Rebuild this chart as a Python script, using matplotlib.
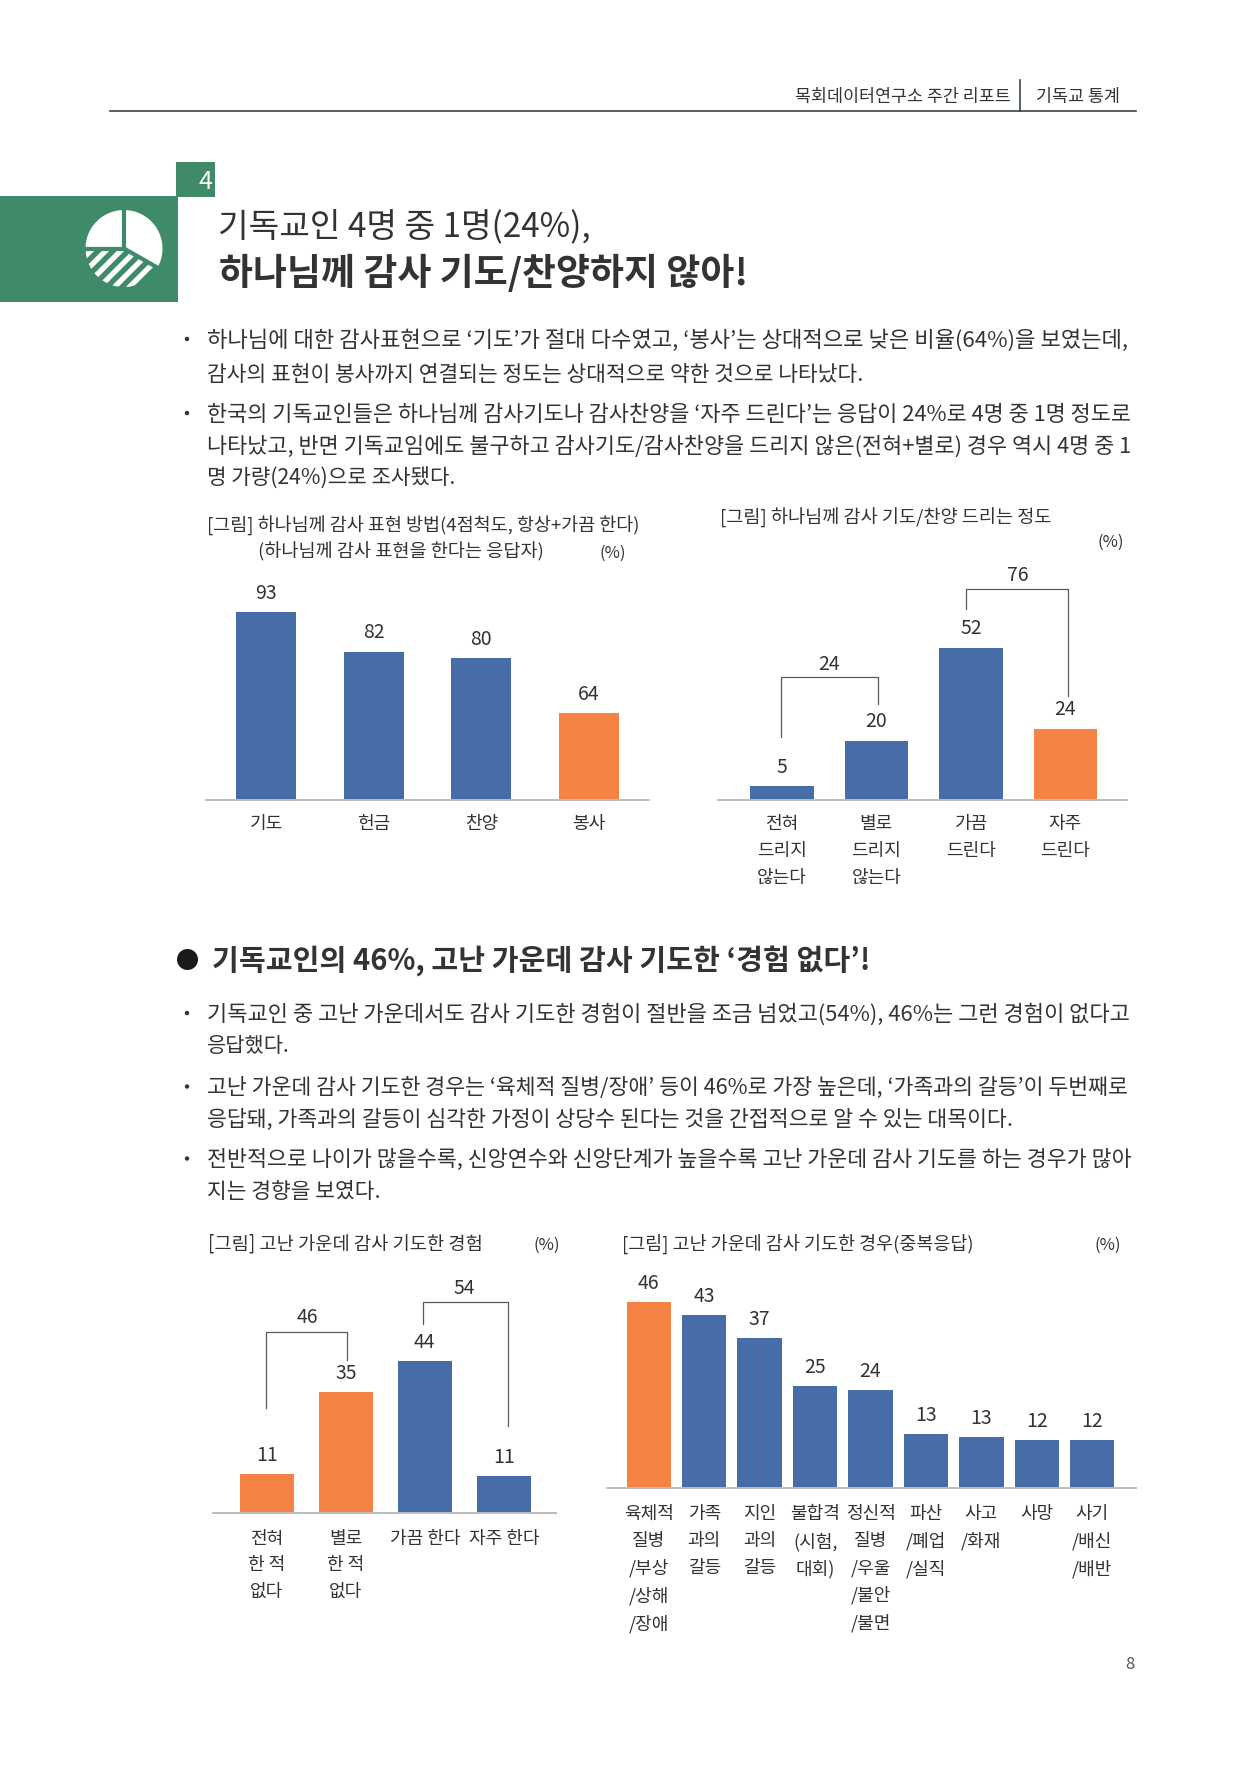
import matplotlib
matplotlib.use("Agg")
import matplotlib.pyplot as plt
from matplotlib.patches import Rectangle, Circle, Wedge

plt.rcParams['font.family'] = ['Noto Sans CJK KR', 'DejaVu Sans']

W, H = 1248, 1766
INK = "#333333"
BLUE = "#466da8"
ORANGE = "#f58345"
GREEN = "#3f8a69"
AXIS = "#bdbdbd"

# 차트 데이터
how_labels = ["기도", "헌금", "찬양", "봉사"]
how_values = [93, 81.8, 80, 64.4]
how_colors = [BLUE, BLUE, BLUE, ORANGE]

freq_labels = ["전혀\n드리지\n않는다", "별로\n드리지\n않는다", "가끔\n드린다", "자주\n드린다"]
freq_values = [4.8, 20.3, 52, 24.3]
freq_colors = [BLUE, BLUE, BLUE, ORANGE]

exp_labels = ["전혀\n한 적\n없다", "별로\n한 적\n없다", "가끔 한다", "자주 한다"]
exp_values = [11.3, 35, 44, 10.7]
exp_colors = [ORANGE, ORANGE, BLUE, BLUE]

case_labels = ["육체적\n질병\n/부상\n/상해\n/장애", "가족\n과의\n갈등", "지인\n과의\n갈등",
               "불합격\n(시험,\n대회)", "정신적\n질병\n/우울\n/불안\n/불면", "파산\n/폐업\n/실직",
               "사고\n/화재", "사망", "사기\n/배신\n/배반"]
case_values = [46, 42.8, 37.1, 25.2, 24.2, 13.4, 12.6, 11.9, 11.9]
case_colors = [ORANGE] + [BLUE] * 8

fig = plt.figure(figsize=(W / 100, H / 100), dpi=100, facecolor="white")
page = fig.add_axes([0, 0, 1, 1])
page.set_xlim(0, W)
page.set_ylim(H, 0)
page.axis("off")
renderer = fig.canvas.get_renderer()


def put_text(x0, x1, yc, s, size=15, weight="light", color=INK, ha="left"):
    t = page.text(x0, yc, s, fontsize=size, fontweight=weight, color=color, ha=ha, va="baseline")
    if x1 is not None:
        w = t.get_window_extent(renderer).width
        t.set_fontsize(size * (x1 - x0) / w)
    t.set_y(yc + 0.35 * t.get_fontsize() * 100 / 72)
    return t


def chart(x0, x1, y_top, y_base, labels, values, colors, ylim, xlim, width, fs=13, pad=11, ls=1.63):
    ax = fig.add_axes([x0 / W, 1 - y_base / H, (x1 - x0) / W, (y_base - y_top) / H])
    ax.patch.set_alpha(0)
    x = list(range(len(values)))
    bars = ax.bar(x, values, width=width, color=colors)
    ax.bar_label(bars, labels=[f"{v:.0f}" for v in values], padding=6, fontsize=14, color=INK)
    ax.set_xlim(*xlim)
    ax.set_ylim(*ylim)
    ax.set_xticks(x)
    ax.set_xticklabels(labels, fontsize=fs, color=INK, linespacing=ls)
    ax.tick_params(axis="x", length=0, pad=pad)
    ax.set_yticks([])
    for s in ["top", "left", "right"]:
        ax.spines[s].set_visible(False)
    ax.spines["bottom"].set_color(AXIS)
    ax.spines["bottom"].set_linewidth(1.4)
    return ax


def bracket(x_a, y_a, y_top, x_b, y_b, label, lab_x, lab_y):
    page.plot([x_a, x_a, x_b, x_b], [y_a, y_top, y_top, y_b], color="#5a5a5a", lw=0.9)
    put_text(lab_x, None, lab_y, label, size=14, ha="center")


# 머리글
put_text(795, 1011, 96, "목회데이터연구소 주간 리포트", size=12)
put_text(1035.5, 1120, 96, "기독교 통계", size=12)
page.plot([110, 1136], [111, 111], color="#3a444c", lw=1.2)
page.plot([1020, 1020], [80, 111], color="#3a444c", lw=1.2)
put_text(1129.5, None, 1663, "8", size=12, ha="center", color="#555555")

# 섹션 머리 아이콘
page.add_patch(Rectangle((0, 196), 178, 106, fc=GREEN, ec="none"))
page.add_patch(Rectangle((176, 162), 39, 35, fc=GREEN, ec="none"))
put_text(205.5, None, 180, "4", size=18, color="white", ha="center")

icon = fig.add_axes([(124 - 40) / W, 1 - (248.5 + 40) / H, 80 / W, 80 / H])
icon.set_xlim(-40, 40)
icon.set_ylim(-40, 40)
icon.axis("off")
icon.add_patch(Wedge((0, 0), 38.5, -30, 180, fc="white", ec="none"))
low = Wedge((0, 0), 38.5, 180, 330, fc=GREEN, ec="none")
icon.add_patch(low)
for c in [-44, -29, -14, 1, 16, 31]:
    stripe, = icon.plot([-40, 40], [-40 + c, 40 + c], color="white", lw=3.8)
    stripe.set_clip_path(low)
icon.plot([0, 0], [0, 40], color=GREEN, lw=3)
icon.plot([0, -40], [0, 0], color=GREEN, lw=3)
icon.plot([0, 35], [0, -20], color=GREEN, lw=3)

put_text(218.5, 592, 226, "기독교인 4명 중 1명(24%),", size=26)
put_text(219, 748, 272, "하나님께 감사 기도/찬양하지 않아!", size=26, weight="bold")

# 본문 1
for by in [339, 413]:
    page.add_patch(Circle((187, by), 2.2, fc=INK, ec="none"))
put_text(207, 1127, 339, "하나님에 대한 감사표현으로 ‘기도’가 절대 다수였고, ‘봉사’는 상대적으로 낮은 비율(64%)을 보였는데,")
put_text(207, 861, 373, "감사의 표현이 봉사까지 연결되는 정도는 상대적으로 약한 것으로 나타났다.")
put_text(207, 1128, 413, "한국의 기독교인들은 하나님께 감사기도나 감사찬양을 ‘자주 드린다’는 응답이 24%로 4명 중 1명 정도로")
put_text(207, 1127, 445, "나타났고, 반면 기독교임에도 불구하고 감사기도/감사찬양을 드리지 않은(전혀+별로) 경우 역시 4명 중 1")
put_text(207, 455, 477, "명 가량(24%)으로 조사됐다.")

# 차트 제목
put_text(207, 641, 525, "[그림] 하나님께 감사 표현 방법(4점척도, 항상+가끔 한다)", size=13)
put_text(258, 544, 551, "(하나님께 감사 표현을 한다는 응답자)", size=13)
put_text(613, None, 552, "(%)", size=12, ha="center")
put_text(720, 1051.5, 517, "[그림] 하나님께 감사 기도/찬양 드리는 정도", size=13)
put_text(1111, None, 541, "(%)", size=12, ha="center")

chart(206, 649, 600, 800, how_labels, how_values, how_colors, (40, 40 + 200 / 3.55), (-0.56, 3.56), 0.56)
chart(717.6, 1126.8, 620, 800, freq_labels, freq_values, freq_colors, (0, 180 / 2.93), (-0.68, 3.65), 0.67)

bracket(780.5, 737, 677, 877.5, 704, "24", 829, 663)
bracket(966, 609, 589, 1067.5, 696, "76", 1018, 574)

# 본문 2
page.add_patch(Circle((187.5, 959.5), 10.5, fc="#1a1a1a", ec="none"))
put_text(212, 868, 959.5, "기독교인의 46%, 고난 가운데 감사 기도한 ‘경험 없다’!", size=20, weight="bold")

for by in [1013, 1086.5, 1158.5]:
    page.add_patch(Circle((187, by), 2.2, fc=INK, ec="none"))
put_text(207, 1128, 1013, "기독교인 중 고난 가운데서도 감사 기도한 경험이 절반을 조금 넘었고(54%), 46%는 그런 경험이 없다고")
put_text(207, 289.5, 1045, "응답했다.")
put_text(207, 1128, 1086.5, "고난 가운데 감사 기도한 경우는 ‘육체적 질병/장애’ 등이 46%로 가장 높은데, ‘가족과의 갈등’이 두번째로")
put_text(207, 1010, 1118, "응답돼, 가족과의 갈등이 심각한 가정이 상당수 된다는 것을 간접적으로 알 수 있는 대목이다.")
put_text(207, 1128, 1158.5, "전반적으로 나이가 많을수록, 신앙연수와 신앙단계가 높을수록 고난 가운데 감사 기도를 하는 경우가 많아")
put_text(207, 380, 1190, "지는 경향을 보였다.")

put_text(208.5, 483, 1243, "[그림] 고난 가운데 감사 기도한 경험", size=13)
put_text(547, None, 1244, "(%)", size=12, ha="center")
put_text(622, 974, 1243, "[그림] 고난 가운데 감사 기도한 경우(중복응답)", size=13)
put_text(1108, None, 1244, "(%)", size=12, ha="center")

chart(213, 556, 1340, 1513, exp_labels, exp_values, exp_colors, (0, 173 / 3.45), (-0.68, 3.66), 0.68, pad=12)
chart(606.5, 1136, 1290, 1488, case_labels, case_values, case_colors, (0, 198 / 4.04), (-0.763, 8.79), 0.8, pad=12.5)

bracket(266, 1408, 1332, 347, 1360, "46", 307, 1316)
bracket(422.5, 1324, 1302, 508, 1426, "54", 464, 1287)

fig.savefig("out.png", dpi=100)
